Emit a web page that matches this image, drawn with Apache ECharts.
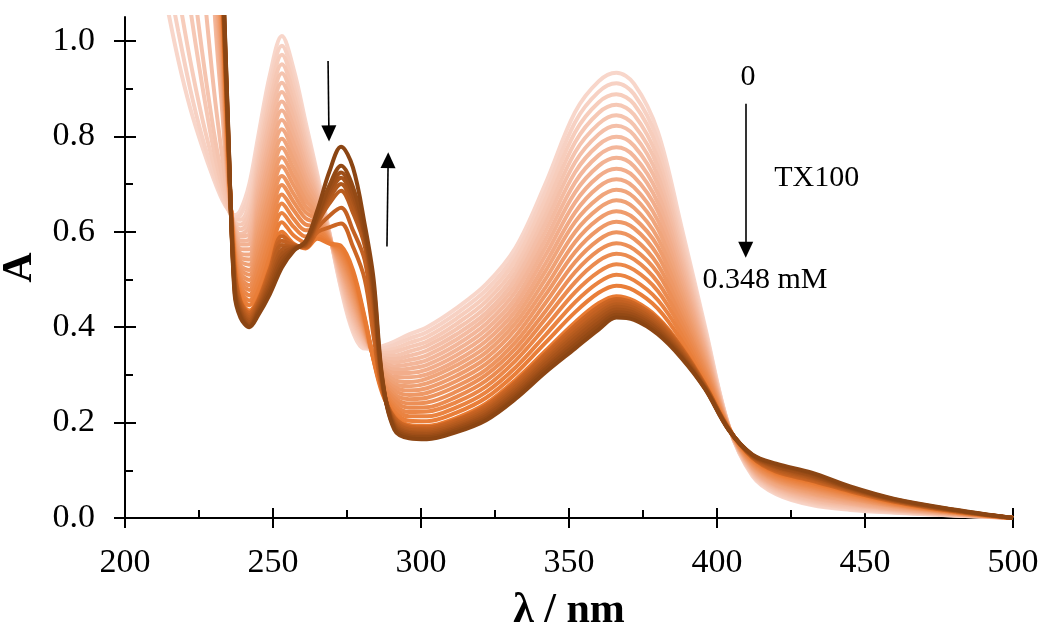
<!DOCTYPE html>
<html><head><meta charset="utf-8">
<script src="https://cdn.jsdelivr.net/npm/echarts@6/dist/echarts.min.js"></script>
<style>html,body{margin:0;padding:0;background:#fff}#c{width:1043px;height:631px}</style>
</head><body><div id="c"></div>
<script>
// Wavelength grid (nm) and absorbance per wavelength for each of the 30 spectra (0 -> 0.348 mM TX100)
const wavelengths = [214,218,222,226,230,233,235,237,239,242,245,249,253,257,261,265,269,273,277,281,284,287,291,296,302,312,322,332,342,352,360,366,372,380,388,396,404,412,420,432,445,460,480,500];
const a214 = [1.08,1.15,1.25,1.45,1.60,2.00,3.0,3.0,3.0,3.0,3.0,3.0,3.0,3.0,3.0,3.0,3.0,3.0,3.0,3.0,3.0,3.0,3.0,3.0,3.0,3.0,3.0,3.0,3.0,3.0];
const a218 = [0.96,1.02,1.10,1.25,1.40,1.70,2.8,2.8,2.8,2.8,2.8,2.8,2.8,2.8,2.8,2.8,2.8,2.8,2.8,2.8,2.8,2.8,2.8,2.8,2.8,2.8,2.8,2.8,2.8,2.8];
const a222 = [0.86,0.90,0.96,1.07,1.18,1.40,2.6,2.6,2.6,2.6,2.6,2.6,2.6,2.6,2.6,2.6,2.6,2.6,2.6,2.6,2.6,2.6,2.6,2.6,2.6,2.6,2.6,2.6,2.6,2.6];
const a226 = [0.78,0.80,0.84,0.91,0.98,1.15,2.2,2.2,2.2,2.2,2.2,2.2,2.2,2.2,2.2,2.2,2.2,2.2,2.2,2.2,2.2,2.2,2.2,2.2,2.2,2.2,2.2,2.2,2.2,2.2];
const a230 = [0.71,0.72,0.74,0.77,0.81,0.90,1.10,1.12,1.15,1.18,1.20,1.23,1.26,1.28,1.31,1.34,1.36,1.39,1.42,1.44,1.47,1.50,1.52,1.55,1.57,1.60,1.62,1.65,1.67,1.70];
const a233 = [0.665,0.67,0.675,0.69,0.71,0.75,0.84,0.86,0.88,0.90,0.92,0.93,0.95,0.96,0.98,0.99,1.01,1.02,1.04,1.05,1.07,1.08,1.09,1.10,1.11,1.12,1.13,1.14,1.15,1.16];
const a235 = [0.645,0.645,0.645,0.65,0.655,0.665,0.68,0.685,0.69,0.695,0.70,0.705,0.71,0.715,0.72,0.725,0.73,0.735,0.74,0.745,0.75,0.755,0.76,0.765,0.77,0.775,0.78,0.785,0.79,0.795];
const a237 = [0.635,0.63,0.625,0.62,0.615,0.61,0.61,0.605,0.60,0.595,0.59,0.585,0.58,0.575,0.57,0.565,0.56,0.555,0.55,0.545,0.54,0.535,0.525,0.515,0.505,0.495,0.49,0.485,0.478,0.47];
const a239 = [0.645,0.635,0.625,0.615,0.605,0.595,0.590,0.581,0.573,0.564,0.555,0.547,0.538,0.529,0.521,0.512,0.503,0.495,0.486,0.477,0.469,0.460,0.455,0.450,0.445,0.440,0.435,0.430,0.425,0.420];
const a242 = [0.70,0.68,0.66,0.64,0.625,0.61,0.595,0.584,0.574,0.563,0.552,0.542,0.531,0.520,0.510,0.499,0.488,0.478,0.467,0.456,0.446,0.435,0.430,0.425,0.420,0.415,0.410,0.405,0.402,0.400];
const a245 = [0.800,0.784,0.768,0.751,0.735,0.719,0.703,0.687,0.670,0.654,0.638,0.622,0.606,0.590,0.573,0.557,0.541,0.525,0.509,0.492,0.476,0.460,0.456,0.451,0.447,0.443,0.438,0.434,0.430,0.425];
const a249 = [0.930,0.911,0.892,0.873,0.854,0.835,0.816,0.797,0.778,0.759,0.740,0.720,0.701,0.682,0.663,0.644,0.625,0.606,0.587,0.568,0.549,0.530,0.523,0.515,0.508,0.500,0.493,0.485,0.478,0.470];
const a253 = [1.010,0.990,0.971,0.951,0.932,0.912,0.893,0.873,0.854,0.834,0.815,0.795,0.776,0.756,0.737,0.717,0.698,0.678,0.659,0.639,0.620,0.600,0.591,0.581,0.572,0.563,0.553,0.544,0.534,0.525];
const a257 = [0.940,0.923,0.905,0.888,0.870,0.853,0.836,0.818,0.801,0.784,0.766,0.749,0.731,0.714,0.697,0.679,0.662,0.645,0.627,0.610,0.592,0.575,0.573,0.571,0.569,0.568,0.566,0.564,0.562,0.560];
const a261 = [0.830,0.817,0.805,0.792,0.780,0.767,0.754,0.742,0.729,0.716,0.704,0.691,0.679,0.666,0.653,0.641,0.628,0.615,0.603,0.590,0.578,0.565,0.567,0.569,0.571,0.572,0.574,0.576,0.578,0.580];
const a265 = [0.720,0.714,0.707,0.701,0.694,0.688,0.681,0.675,0.669,0.662,0.656,0.649,0.643,0.636,0.630,0.624,0.617,0.611,0.604,0.598,0.591,0.585,0.599,0.608,0.618,0.622,0.626,0.629,0.633,0.645];
const a269 = [0.600,0.599,0.598,0.596,0.595,0.594,0.593,0.592,0.590,0.589,0.588,0.587,0.586,0.585,0.583,0.582,0.581,0.580,0.579,0.577,0.576,0.575,0.609,0.633,0.659,0.669,0.678,0.686,0.696,0.725];
const a273 = [0.480,0.484,0.489,0.493,0.497,0.501,0.506,0.510,0.514,0.519,0.523,0.527,0.531,0.536,0.540,0.544,0.549,0.553,0.557,0.561,0.566,0.570,0.617,0.650,0.686,0.700,0.713,0.724,0.738,0.778];
const a277 = [0.390,0.396,0.402,0.409,0.415,0.421,0.427,0.433,0.440,0.446,0.452,0.458,0.464,0.470,0.477,0.483,0.489,0.495,0.501,0.508,0.514,0.520,0.569,0.603,0.640,0.654,0.668,0.679,0.694,0.735];
const a281 = [0.355,0.358,0.361,0.364,0.367,0.370,0.374,0.377,0.380,0.383,0.386,0.389,0.392,0.395,0.398,0.401,0.405,0.408,0.411,0.414,0.417,0.420,0.500,0.540,0.570,0.580,0.590,0.595,0.600,0.615];
const a284 = [0.355,0.354,0.353,0.351,0.350,0.349,0.348,0.347,0.345,0.344,0.343,0.342,0.341,0.340,0.338,0.337,0.336,0.335,0.334,0.332,0.331,0.330,0.380,0.410,0.440,0.455,0.465,0.475,0.485,0.500];
const a287 = [0.360,0.355,0.350,0.346,0.341,0.336,0.331,0.327,0.322,0.317,0.312,0.308,0.303,0.298,0.293,0.289,0.284,0.279,0.274,0.270,0.265,0.260,0.265,0.270,0.275,0.278,0.281,0.284,0.287,0.290];
const a291 = [0.370,0.363,0.355,0.348,0.340,0.333,0.326,0.318,0.311,0.304,0.296,0.289,0.281,0.274,0.267,0.259,0.252,0.245,0.237,0.230,0.222,0.215,0.211,0.208,0.204,0.200,0.196,0.193,0.189,0.185];
const a296 = [0.385,0.376,0.367,0.358,0.349,0.340,0.331,0.322,0.313,0.304,0.295,0.285,0.276,0.267,0.258,0.249,0.240,0.231,0.222,0.213,0.204,0.195,0.192,0.188,0.185,0.181,0.178,0.174,0.171,0.167];
const a302 = [0.400,0.390,0.380,0.370,0.361,0.351,0.341,0.331,0.321,0.311,0.301,0.292,0.282,0.272,0.262,0.252,0.242,0.232,0.223,0.213,0.203,0.193,0.190,0.186,0.183,0.179,0.176,0.172,0.169,0.165];
const a312 = [0.440,0.429,0.418,0.407,0.396,0.385,0.374,0.363,0.352,0.341,0.330,0.320,0.309,0.298,0.287,0.276,0.265,0.254,0.243,0.232,0.221,0.210,0.206,0.203,0.199,0.195,0.191,0.188,0.184,0.180];
const a322 = [0.490,0.478,0.466,0.454,0.442,0.430,0.419,0.407,0.395,0.383,0.371,0.359,0.347,0.335,0.323,0.311,0.300,0.288,0.276,0.264,0.252,0.240,0.236,0.231,0.227,0.223,0.218,0.214,0.209,0.205];
const a332 = [0.567,0.554,0.541,0.527,0.514,0.501,0.488,0.475,0.461,0.448,0.435,0.422,0.409,0.396,0.382,0.369,0.356,0.343,0.330,0.316,0.303,0.290,0.285,0.280,0.275,0.270,0.265,0.260,0.255,0.250];
const a342 = [0.700,0.683,0.667,0.650,0.633,0.617,0.600,0.583,0.567,0.550,0.533,0.517,0.500,0.483,0.467,0.450,0.433,0.417,0.400,0.383,0.367,0.350,0.344,0.339,0.333,0.328,0.322,0.316,0.311,0.305];
const a352 = [0.850,0.829,0.808,0.787,0.766,0.745,0.724,0.703,0.682,0.661,0.640,0.620,0.599,0.578,0.557,0.536,0.515,0.494,0.473,0.452,0.431,0.410,0.403,0.396,0.389,0.383,0.376,0.369,0.362,0.355];
const a360 = [0.915,0.893,0.871,0.849,0.826,0.804,0.782,0.760,0.738,0.716,0.694,0.671,0.649,0.627,0.605,0.583,0.561,0.539,0.516,0.494,0.472,0.450,0.443,0.436,0.429,0.423,0.416,0.409,0.402,0.395];
const a366 = [0.933,0.911,0.888,0.866,0.844,0.822,0.799,0.777,0.755,0.732,0.710,0.688,0.666,0.643,0.621,0.599,0.576,0.554,0.532,0.510,0.487,0.465,0.459,0.454,0.448,0.443,0.437,0.431,0.426,0.420];
const a372 = [0.910,0.888,0.867,0.845,0.823,0.802,0.780,0.758,0.737,0.715,0.693,0.672,0.650,0.628,0.607,0.585,0.563,0.542,0.520,0.498,0.477,0.455,0.450,0.445,0.440,0.435,0.430,0.425,0.420,0.415];
const a380 = [0.810,0.791,0.773,0.754,0.736,0.717,0.699,0.680,0.661,0.643,0.624,0.606,0.587,0.569,0.550,0.531,0.513,0.494,0.476,0.457,0.439,0.420,0.416,0.411,0.407,0.403,0.398,0.394,0.389,0.385];
const a388 = [0.610,0.598,0.586,0.574,0.562,0.550,0.539,0.527,0.515,0.503,0.491,0.479,0.467,0.455,0.443,0.431,0.420,0.408,0.396,0.384,0.372,0.360,0.357,0.354,0.351,0.348,0.344,0.341,0.338,0.335];
const a396 = [0.400,0.394,0.389,0.383,0.377,0.371,0.366,0.360,0.354,0.349,0.343,0.337,0.331,0.326,0.320,0.314,0.309,0.303,0.297,0.291,0.286,0.280,0.279,0.277,0.276,0.275,0.274,0.272,0.271,0.270];
const a404 = [0.192,0.192,0.192,0.191,0.191,0.191,0.191,0.190,0.190,0.190,0.190,0.189,0.189,0.189,0.189,0.188,0.188,0.188,0.188,0.187,0.187,0.187,0.187,0.186,0.186,0.186,0.185,0.185,0.185,0.184];
const a412 = [0.088,0.090,0.092,0.093,0.095,0.097,0.099,0.100,0.102,0.104,0.106,0.107,0.109,0.111,0.113,0.114,0.116,0.118,0.120,0.121,0.123,0.125,0.126,0.127,0.128,0.129,0.130,0.131,0.132,0.133];
const a420 = [0.050,0.052,0.054,0.056,0.059,0.061,0.063,0.065,0.067,0.069,0.071,0.074,0.076,0.078,0.080,0.082,0.084,0.086,0.089,0.091,0.093,0.095,0.097,0.100,0.102,0.105,0.107,0.109,0.112,0.114];
const a432 = [0.027,0.029,0.032,0.034,0.036,0.038,0.041,0.043,0.045,0.048,0.050,0.052,0.054,0.057,0.059,0.061,0.064,0.066,0.068,0.070,0.073,0.075,0.078,0.080,0.083,0.085,0.088,0.090,0.093,0.095];
const a445 = [0.017,0.019,0.021,0.022,0.024,0.026,0.028,0.030,0.031,0.033,0.035,0.037,0.039,0.041,0.042,0.044,0.046,0.048,0.050,0.051,0.053,0.055,0.056,0.058,0.059,0.060,0.062,0.063,0.064,0.066];
const a460 = [0.011,0.012,0.013,0.014,0.015,0.016,0.017,0.018,0.019,0.020,0.021,0.023,0.024,0.025,0.026,0.027,0.028,0.029,0.030,0.031,0.032,0.033,0.034,0.035,0.036,0.037,0.037,0.038,0.039,0.040];
const a480 = [0.005,0.005,0.006,0.007,0.007,0.007,0.008,0.008,0.009,0.009,0.009,0.010,0.010,0.011,0.011,0.011,0.012,0.012,0.013,0.013,0.013,0.014,0.014,0.015,0.015,0.016,0.016,0.017,0.017,0.018];
const a500 = [0,0,0,0,0,0,0,0,0,0,0,0,0,0,0,0,0,0,0,0,0,0,0,0,0,0,0,0,0,0];
const columns = [a214,a218,a222,a226,a230,a233,a235,a237,a239,a242,a245,a249,a253,a257,a261,a265,a269,a273,a277,a281,a284,a287,a291,a296,a302,a312,a322,a332,a342,a352,a360,a366,a372,a380,a388,a396,a404,a412,a420,a432,a445,a460,a480,a500];

const xTicks = [200,250,300,350,400,450,500];
const yTicks = [0,0.2,0.4,0.6,0.8,1.0];
const yMinorTicks = [0,0.1,0.2,0.3,0.4,0.5,0.6,0.7,0.8,0.9,1.0];
const arrows = [[[268.6,0.958],[268.9,0.806]], [[288.5,0.569],[288.9,0.750]], [[409.7,0.868],[409.7,0.562]]];
const notes = [{text:'0', at:[410.5,0.923]}, {text:'TX100', at:[433.7,0.713]}, {text:'0.348 mM', at:[416.2,0.498]}];

// colour ramp (style only)
const stops = [[0,[248,214,202]],[7,[243,182,154]],[14,[238,152,102]],[21,[232,122,50]],[22,[204,102,36]],[29,[139,69,19]]];
function colorFor(i){
  for (let s=0;s<stops.length-1;s++){
    const [i0,c0]=stops[s],[i1,c1]=stops[s+1];
    if (i>=i0 && i<=i1){
      const t=(i1===i0)?0:(i-i0)/(i1-i0);
      const c=c0.map((v,k)=>Math.round(v+(c1[k]-v)*t));
      return 'rgb('+c.join(',')+')';
    }
  }
  return 'rgb(139,69,19)';
}

const FONT = 'Liberation Serif';
const nCurves = columns[0].length;
const series = [];
for (let i=0;i<nCurves;i++){
  series.push({
    type:'line', xAxisIndex:0, yAxisIndex:0,
    data: wavelengths.map((w,k)=>[w, columns[k][i]]),
    showSymbol:false, smooth:0.35, clip:true, silent:true,
    lineStyle:{width:4, color:colorFor(i)}
  });
}
series.push({
  type:'line', xAxisIndex:0, yAxisIndex:0, data:[], silent:true,
  markLine:{
    silent:true, animation:false, symbol:['none','triangle'], symbolSize:[15,16],
    lineStyle:{color:'#000', width:1.6, type:'solid'},
    itemStyle:{color:'#000'},
    label:{show:false},
    data: arrows.map(a=>[{coord:a[0]},{coord:a[1]}])
  },
  markPoint:{
    silent:true, animation:false,
    data: notes.map(n=>({coord:n.at, symbol:'circle', symbolSize:1, itemStyle:{color:'rgba(0,0,0,0)'},
      label:{show:true, position:'inside', formatter:n.text, fontFamily:FONT, fontSize:30, color:'#000'}}))
  }
});

const tickStyle = {color:'#000', width:2};
const chart = echarts.init(document.getElementById('c'), null, {renderer:'canvas'});
chart.setOption({
  animation:false,
  backgroundColor:'#fff',
  grid:{left:125, right:30, top:17, bottom:113, containLabel:false, outerBoundsMode:'none'},
  xAxis:[
    {type:'value', min:200, max:500, interval:50, position:'bottom',
     axisLine:{show:true, onZero:false, lineStyle:{color:'#000', width:2}},
     axisTick:{show:true, inside:false, length:10, lineStyle:tickStyle},
     axisLabel:{show:true, margin:28, fontFamily:FONT, fontSize:34, color:'#000',
       formatter:v=>xTicks.includes(v)?String(v):''},
     splitLine:{show:false},
     name:'λ / nm', nameLocation:'middle', nameGap:72,
     nameTextStyle:{fontFamily:FONT, fontWeight:'bold', fontSize:42, color:'#000'}},
    {type:'value', min:200, max:500, interval:25, position:'bottom',
     axisLine:{show:false, onZero:false}, axisTick:{show:true, inside:true, length:8, lineStyle:tickStyle},
     axisLabel:{show:false}, splitLine:{show:false}},
    {type:'value', min:200, max:500, interval:50, position:'bottom',
     axisLine:{show:false, onZero:false}, axisTick:{show:true, inside:true, length:10, lineStyle:tickStyle},
     axisLabel:{show:false}, splitLine:{show:false}}
  ],
  yAxis:[
    {type:'value', min:0, max:1.05, position:'left',
     axisLine:{show:true, onZero:false, lineStyle:{color:'#000', width:2}},
     axisTick:{show:true, inside:false, length:11, customValues:yTicks, lineStyle:tickStyle},
     axisLabel:{show:true, margin:30, customValues:yTicks, fontFamily:FONT, fontSize:34, color:'#000',
       formatter:v=>Number(v).toFixed(1)},
     splitLine:{show:false},
     name:'A', nameLocation:'middle', nameGap:64, nameRotate:90,
     nameTextStyle:{fontFamily:FONT, fontWeight:'bold', fontSize:42, color:'#000'}},
    {type:'value', min:0, max:1.05, position:'left',
     axisLine:{show:false, onZero:false}, axisTick:{show:true, inside:true, length:8, customValues:yMinorTicks, lineStyle:tickStyle},
     axisLabel:{show:false}, splitLine:{show:false}},
    {type:'value', min:0, max:1.05, position:'left',
     axisLine:{show:false, onZero:false}, axisTick:{show:true, inside:true, length:11, customValues:yTicks, lineStyle:tickStyle},
     axisLabel:{show:false}, splitLine:{show:false}}
  ],
  series: series
});
</script></body></html>
